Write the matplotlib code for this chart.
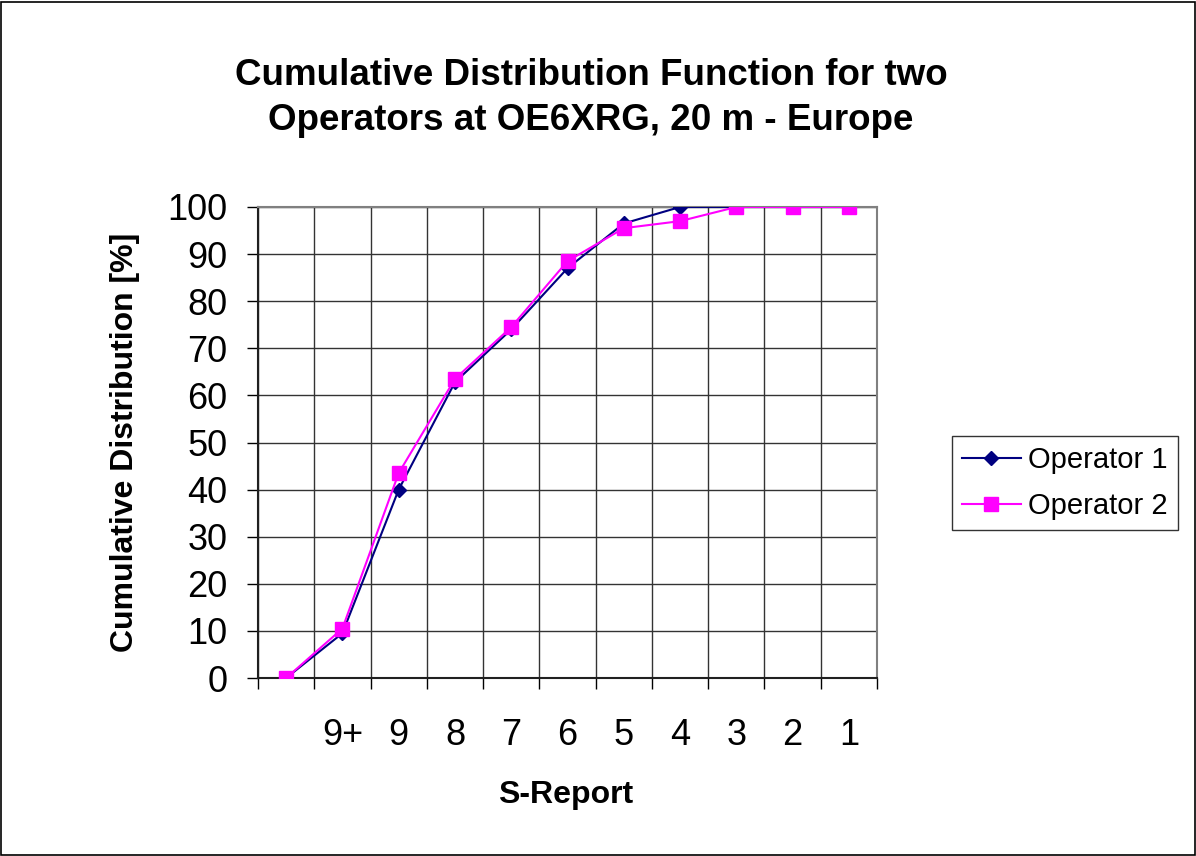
import matplotlib.pyplot as plt
from matplotlib.patches import Rectangle

categories = ["", "9+", "9", "8", "7", "6", "5", "4", "3", "2", "1"]
operator1 = [0, 9.5, 40, 62.8, 74, 87, 96.5, 100, 100, 100, 100]
operator2 = [0, 10.5, 43.5, 63.5, 74.5, 88.5, 95.5, 97, 100, 100, 100]
yticks = list(range(0, 101, 10))

plt.rcParams['font.family'] = ['Liberation Sans', 'DejaVu Sans']

W, H = 1196, 856
fig = plt.figure(figsize=(W / 100, H / 100), dpi=100)
ax = fig.add_axes([258 / W, 1 - 678 / H, (877 - 258) / W, (678 - 207) / H])

x = list(range(len(categories)))
ax.plot(x, operator1, color='#000080', lw=1.5, marker='D', ms=7.5, label='Operator 1', zorder=3)
ax.plot(x, operator2, color='#FF00FF', lw=1.5, marker='s', ms=9.5, label='Operator 2', zorder=4)

ax.set_xlim(-0.5, len(categories) - 0.5)
ax.set_ylim(0, 100)
ax.set_yticks(yticks)
ax.tick_params(axis='y', labelsize=26, length=8, width=1, pad=14, direction='out')

ax.set_xticks(x)
ax.set_xticklabels(categories)
ax.set_xticks([i - 0.5 for i in range(len(categories) + 1)], minor=True)
ax.tick_params(axis='x', which='major', length=0, labelsize=26, pad=29)
ax.tick_params(axis='x', which='minor', length=8, width=1, direction='out')

ax.grid(True, axis='y', which='major', color='#333333', lw=1)
ax.grid(True, axis='x', which='minor', color='#333333', lw=1)
ax.set_axisbelow(True)

for s in ['top', 'right']:
    ax.spines[s].set_color('#808080')
    ax.spines[s].set_linewidth(1.5)
for s in ['left', 'bottom']:
    ax.spines[s].set_color('#202020')
    ax.spines[s].set_linewidth(1.5)

ax.set_ylabel('Cumulative Distribution [%]', fontsize=23, fontweight='bold')
ax.yaxis.set_label_coords((125 - 258) / 619, 0.5)
ax.set_xlabel('S-Report', fontsize=23, fontweight='bold')
ax.xaxis.set_label_coords(0.497, (678 - 795) / 471)
ax.xaxis.label.set_va('center')
ax.yaxis.label.set_va('center')

fig.text(591 / W, 1 - 98 / H, 'Cumulative Distribution Function for two\nOperators at OE6XRG, 20 m - Europe',
         ha='center', va='center', fontsize=26.5, fontweight='bold', linespacing=1.4)

leg = ax.legend(loc='center left', bbox_to_anchor=(952 / W, 1 - 483 / H), bbox_transform=fig.transFigure,
                fontsize=21, frameon=True, fancybox=False, handlelength=2.0, borderpad=0.35,
                labelspacing=0.6, handletextpad=0.25, borderaxespad=0)
leg.get_frame().set_edgecolor('black')
leg.get_frame().set_linewidth(1)

fig.patches.append(Rectangle((1 / W, 1 / H), 1 - 2.5 / W, 1 - 2.5 / H, transform=fig.transFigure,
                             fill=False, edgecolor='black', lw=1.2))

fig.savefig('out.png', dpi=100)
